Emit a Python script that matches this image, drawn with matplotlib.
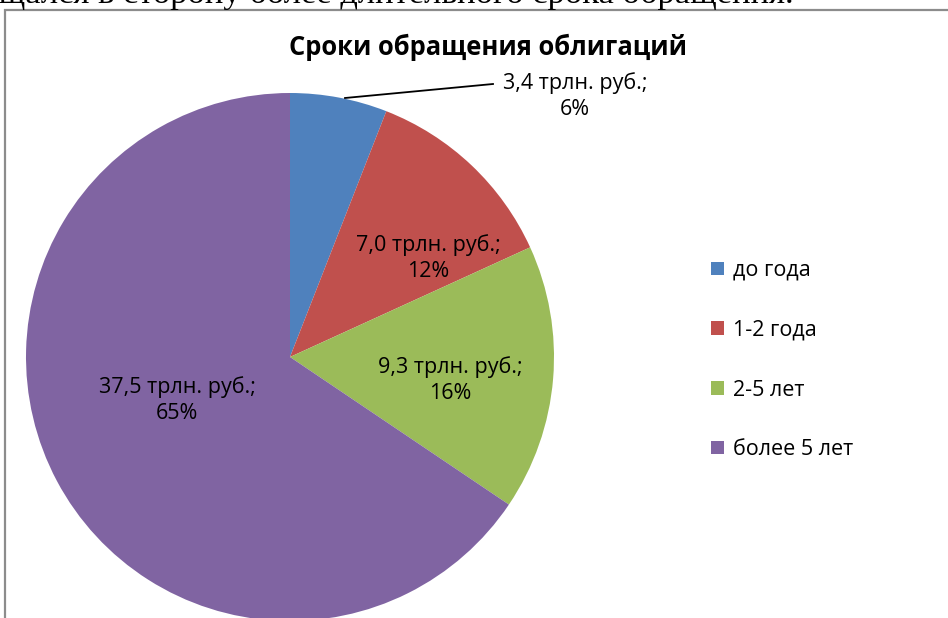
import matplotlib
matplotlib.use("Agg")
import matplotlib.pyplot as plt
from matplotlib.patches import Rectangle, Patch

categories = ["до года", "1-2 года", "2-5 лет", "более 5 лет"]
values = [3.4, 7.0, 9.3, 37.5]
value_labels = ["3,4 трлн. руб.;", "7,0 трлн. руб.;", "9,3 трлн. руб.;", "37,5 трлн. руб.;"]
pct_labels = ["6%", "12%", "16%", "65%"]
colors = ["#4F81BD", "#C0504D", "#9BBB59", "#8064A2"]
title = "Сроки обращения облигаций"
top_text = "смещался в сторону более длительного срока обращения."

W, H, DPI = 948, 618, 100
fig = plt.figure(figsize=(W / DPI, H / DPI), dpi=DPI)
plt.rcParams['font.family'] = ['Open Sans', 'DejaVu Sans']

# pie geometry in pixels
cx, cy, R = 290, 357, 264
ax = fig.add_axes([0, 0, 1, 1])

wedges, _ = ax.pie(values, colors=colors, startangle=90, counterclock=False,
                   radius=1.0, center=(0, 0), frame=True,
                   wedgeprops=dict(linewidth=0))
ax.axis('off')
ax.set_xlim(-cx / R, (W - cx) / R)
ax.set_ylim(-(H - cy) / R, cy / R)

def px(x, y):
    return ((x - cx) / R, (cy - y) / R)

label_pos = [(575, 96), (428, 258), (450, 380), (177, 400)]
fs = 15.5
for i, (x, y) in enumerate(label_pos):
    ax.text(*px(x, y), value_labels[i] + "\n" + pct_labels[i], ha='center', va='center',
            fontsize=fs, linespacing=1.3, color='black')

# leader line for first label
ax.plot(*zip(px(345, 98), px(493, 84)), color='black', lw=1.3)

# title
fig.text(488 / W, 1 - 47 / H, title, ha='center', va='center', fontsize=18.4,
         fontweight='bold')

# legend
handles = [Patch(facecolor=c, edgecolor='none') for c in colors]
fig.legend(handles, categories, loc='upper left', bbox_to_anchor=(711 / W, 1 - 260 / H),
           frameon=False, fontsize=fs, labelspacing=1.8, handlelength=0.6,
           handleheight=0.6, handletextpad=0.4, borderpad=0, borderaxespad=0)

# chart border
fig.add_artist(Rectangle((5 / W, -0.1), 1.2, (H - 10) / H + 0.1, transform=fig.transFigure,
                         fill=False, edgecolor='#8c8c8c', linewidth=1.6))

# text above chart (cut)
fig.text(-54 / W, 1 - 2.5 / H, top_text, ha='left', va='baseline', fontsize=24.8,
         family=['Liberation Serif'])

fig.savefig("out.png", dpi=DPI)
